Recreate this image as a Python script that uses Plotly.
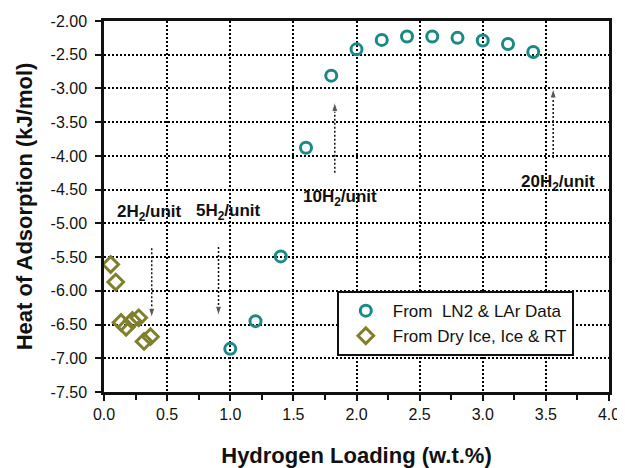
import plotly.graph_objects as go

# Data
ln2_x = [1.0, 1.2, 1.4, 1.6, 1.8, 2.0, 2.2, 2.4, 2.6, 2.8, 3.0, 3.2, 3.4]
ln2_y = [-6.86, -6.45, -5.49, -3.88, -2.81, -2.42, -2.28, -2.23, -2.23, -2.25, -2.29, -2.34, -2.46]
dry_x = [0.053, 0.093, 0.135, 0.175, 0.225, 0.275, 0.317, 0.368]
dry_y = [-5.61, -5.87, -6.47, -6.54, -6.44, -6.40, -6.75, -6.68]

labels = ["2H<sub>2</sub>/unit", "5H<sub>2</sub>/unit", "10H<sub>2</sub>/unit", "20H<sub>2</sub>/unit"]
label_x = [0.357, 0.984, 1.873, 3.595]
label_y = [-4.85, -4.83, -4.62, -4.40]
arrow_x = [0.378, 0.907, 1.828, 3.558]
arrow_y0 = [-5.37, -5.35, -4.25, -4.03]
arrow_y1 = [-6.40, -6.37, -3.20, -3.00]

x_tickvals = [0.0, 0.5, 1.0, 1.5, 2.0, 2.5, 3.0, 3.5, 4.0]
x_ticktext = ["0.0", "0.5", "1.0", "1.5", "2.0", "2.5", "3.0", "3.5", "4.0"]
y_tickvals = [-2.0, -2.5, -3.0, -3.5, -4.0, -4.5, -5.0, -5.5, -6.0, -6.5, -7.0, -7.5]
y_ticktext = ["-2.00", "-2.50", "-3.00", "-3.50", "-4.00", "-4.50", "-5.00",
              "-5.50", "-6.00", "-6.50", "-7.00", "-7.50"]

FONT = "Liberation Sans, Arial, sans-serif"
TEAL = "#1a8a84"
OLIVE = "#7f7f2c"
INK = "#111"

fig = go.Figure()
fig.add_trace(go.Scatter(
    x=ln2_x, y=ln2_y, mode="markers", name="From  LN2 & LAr Data",
    marker=dict(symbol="circle-open", size=11, color=TEAL, line=dict(width=3, color=TEAL)),
))
fig.add_trace(go.Scatter(
    x=dry_x, y=dry_y, mode="markers", name="From Dry Ice, Ice & RT",
    marker=dict(symbol="diamond-open", size=12, color=OLIVE, line=dict(width=3, color=OLIVE)),
))

for t, lx, ly in zip(labels, label_x, label_y):
    fig.add_annotation(x=lx, y=ly, text="<b>" + t + "</b>", showarrow=False,
                       font=dict(family=FONT, size=17, color=INK))

for ax_, y0, y1 in zip(arrow_x, arrow_y0, arrow_y1):
    fig.add_trace(go.Scatter(
        x=[ax_, ax_], y=[y0, y1], mode="lines+markers", showlegend=False, hoverinfo="skip",
        line=dict(color=INK, width=1.5, dash="2px,2px"),
        marker=dict(symbol="arrow", size=[0, 10], angleref="previous", color=INK),
    ))

axis_common = dict(
    showline=True, linecolor=INK, linewidth=2.5, mirror=True,
    showgrid=True, gridcolor="#000", gridwidth=2, griddash="2px,2px",
    ticks="outside", ticklen=6, tickwidth=1.5, tickcolor=INK,
    tickfont=dict(family=FONT, size=16, color=INK),
    zeroline=False, automargin=False,
)

fig.update_xaxes(
    range=[0, 4.0], tickmode="array", tickvals=x_tickvals, ticktext=x_ticktext,
    title=dict(text="<b>Hydrogen Loading (w.t.%)</b>", font=dict(family=FONT, size=22, color=INK), standoff=27),
    minor=dict(dtick=0.25, ticks="outside", ticklen=5, tickwidth=1.5, tickcolor=INK, showgrid=False),
    **axis_common,
)
fig.update_yaxes(
    range=[-7.5, -2.0], tickmode="array", tickvals=y_tickvals, ticktext=y_ticktext,
    title=dict(text="<b>Heat of Adsorption (kJ/mol)</b>", font=dict(family=FONT, size=22, color=INK), standoff=12),
    ticklabelstandoff=5,
    **axis_common,
)

fig.update_layout(
    width=617, height=460,
    margin=dict(l=96, r=16, t=13, b=76),
    plot_bgcolor="white", paper_bgcolor="white",
    showlegend=True,
    legend=dict(
        x=0.461, y=0.272, xanchor="left", yanchor="top",
        bordercolor=INK, borderwidth=2, bgcolor="white",
        font=dict(family=FONT, size=17, color=INK),
        itemwidth=44, tracegroupgap=0,
    ),
)

fig.write_html("out.html")
